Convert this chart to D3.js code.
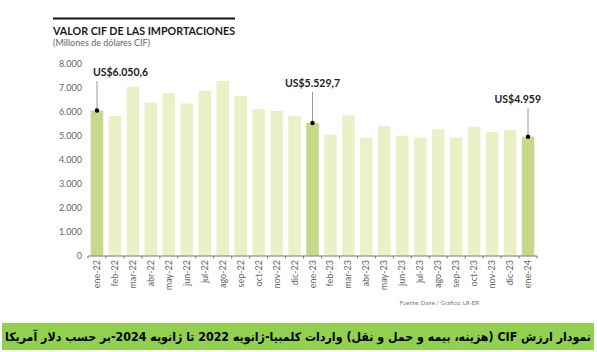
<!DOCTYPE html>
<html><head><meta charset="utf-8">
<script src="https://cdn.jsdelivr.net/npm/d3@7"></script>
<style>
html,body{margin:0;padding:0;background:#fff;}
svg{display:block;}
</style></head>
<body>
<script>
const months = ["ene-22","feb-22","mar-22","abr-22","may-22","jun-22","jul-22","ago-22","sep-22","oct-22","nov-22","dic-22",
"ene-23","feb-23","mar-23","abr-23","may-23","jun-23","jul-23","ago-23","sep-23","oct-23","nov-23","dic-23","ene-24"];
const values = [6050.6,5820,7030,6375,6770,6350,6875,7280,6655,6110,6030,5830,
5529.7,5040,5850,4920,5400,5000,4920,5265,4920,5375,5155,5240,4959];
const highlighted = ["ene-22","ene-23","ene-24"];
const annotationMonths = ["ene-22","ene-23","ene-24"];
const annotationLabels = ["US$6.050,6","US$5.529,7","US$4.959"];
const yTicks = [0,1000,2000,3000,4000,5000,6000,7000,8000];
const title = "VALOR CIF DE LAS IMPORTACIONES";
const subtitle = "(Millones de dólares CIF)";
const source = "Fuente: Dane / Gráfico: LR-ER";
const caption = "نمودار ارزش CIF (هزینه، بیمه و حمل و نقل) واردات کلمبیا-ژانویه 2022 تا ژانویه 2024-بر حسب دلار آمریکا";

const W=597,H=352;
const svg=d3.select("body").append("svg").attr("width",W).attr("height",H);
const font="Lato, 'Open Sans', sans-serif";

const x=d3.scaleBand().domain(months).range([88,537]).paddingInner(0.3).paddingOuter(0.15);
const y=d3.scaleLinear().domain([0,8000]).range([255.7,63.7]);

// title
svg.append("rect").attr("x",53).attr("y",17.5).attr("width",182).attr("height",2).attr("fill","#111");
svg.append("text").attr("x",53).attr("y",35).text(title)
  .attr("font-family",font).attr("font-weight","bold").attr("font-size",10.5).attr("fill","#1a1a1a")
  .attr("textLength",182).attr("lengthAdjust","spacingAndGlyphs");
svg.append("text").attr("x",53).attr("y",46).text(subtitle)
  .attr("font-family",font).attr("font-size",9).attr("fill","#666");

// bars
svg.append("g").selectAll("rect").data(months).join("rect")
  .attr("x",d=>x(d)).attr("width",x.bandwidth())
  .attr("y",(d,i)=>y(values[i])).attr("height",(d,i)=>y(0)-y(values[i]))
  .attr("fill",d=>highlighted.includes(d)?"#c6d98a":"#ebf0c7");

// y axis labels
svg.append("g").selectAll("text").data(yTicks).join("text")
  .attr("x",82).attr("y",d=>y(d)+3).attr("text-anchor","end")
  .attr("font-family",font).attr("font-size",9).attr("fill","#666")
  .text(d=>d3.format(",")(d).replace(/,/g,"."));

// x axis
const xa=svg.append("g");
xa.append("line").attr("x1",88).attr("x2",537).attr("y1",256).attr("y2",256).attr("stroke","#777").attr("stroke-width",1);
const step=x.step();
const tickPos=d3.range(months.length+1).map(i=>88+i*step);
xa.selectAll("line.t").data(tickPos).join("line").attr("class","t")
  .attr("x1",d=>d).attr("x2",d=>d).attr("y1",256).attr("y2",258.5).attr("stroke","#777");
xa.selectAll("text").data(months).join("text")
  .attr("transform",d=>`translate(${x(d)+x.bandwidth()/2+3},260) rotate(-90)`)
  .attr("text-anchor","end").attr("font-family",font).attr("font-size",9).attr("fill","#666")
  .text(d=>d);

// annotations (label layout per annotation)
const annLayout=[{y:76,anchor:"start",dx:-4},{y:87,anchor:"middle",dx:0},{y:103,anchor:"end",dx:13}];
const ann=svg.append("g");
annotationMonths.forEach((m,k)=>{
  const i=months.indexOf(m), L=annLayout[k];
  const cx=x(m)+x.bandwidth()/2, cy=y(values[i]);
  ann.append("line").attr("x1",cx).attr("x2",cx).attr("y1",L.y+5).attr("y2",cy).attr("stroke","#999").attr("stroke-width",1);
  ann.append("circle").attr("cx",cx).attr("cy",cy).attr("r",2.2).attr("fill","#000");
  ann.append("text").attr("x",cx+L.dx).attr("y",L.y).attr("text-anchor",L.anchor).text(annotationLabels[k])
    .attr("font-family",font).attr("font-weight","bold").attr("font-size",10.5).attr("fill","#222");
});

// source
svg.append("text").attr("x",479).attr("y",305).attr("text-anchor","end").text(source)
  .attr("font-family",font).attr("font-size",6).attr("fill","#777");

// caption band
svg.append("rect").attr("x",2).attr("y",323).attr("width",592).attr("height",27).attr("fill","#92d050");
svg.append("text").attr("x",5).attr("y",341).attr("text-anchor","start").attr("direction","ltr")
  .attr("font-family","'DejaVu Sans', sans-serif").attr("font-weight","bold").attr("font-size",12).attr("fill","#000")
  .attr("textLength",586).attr("lengthAdjust","spacingAndGlyphs")
  .text("\u202B"+caption+"\u202C");
</script>
</body></html>
